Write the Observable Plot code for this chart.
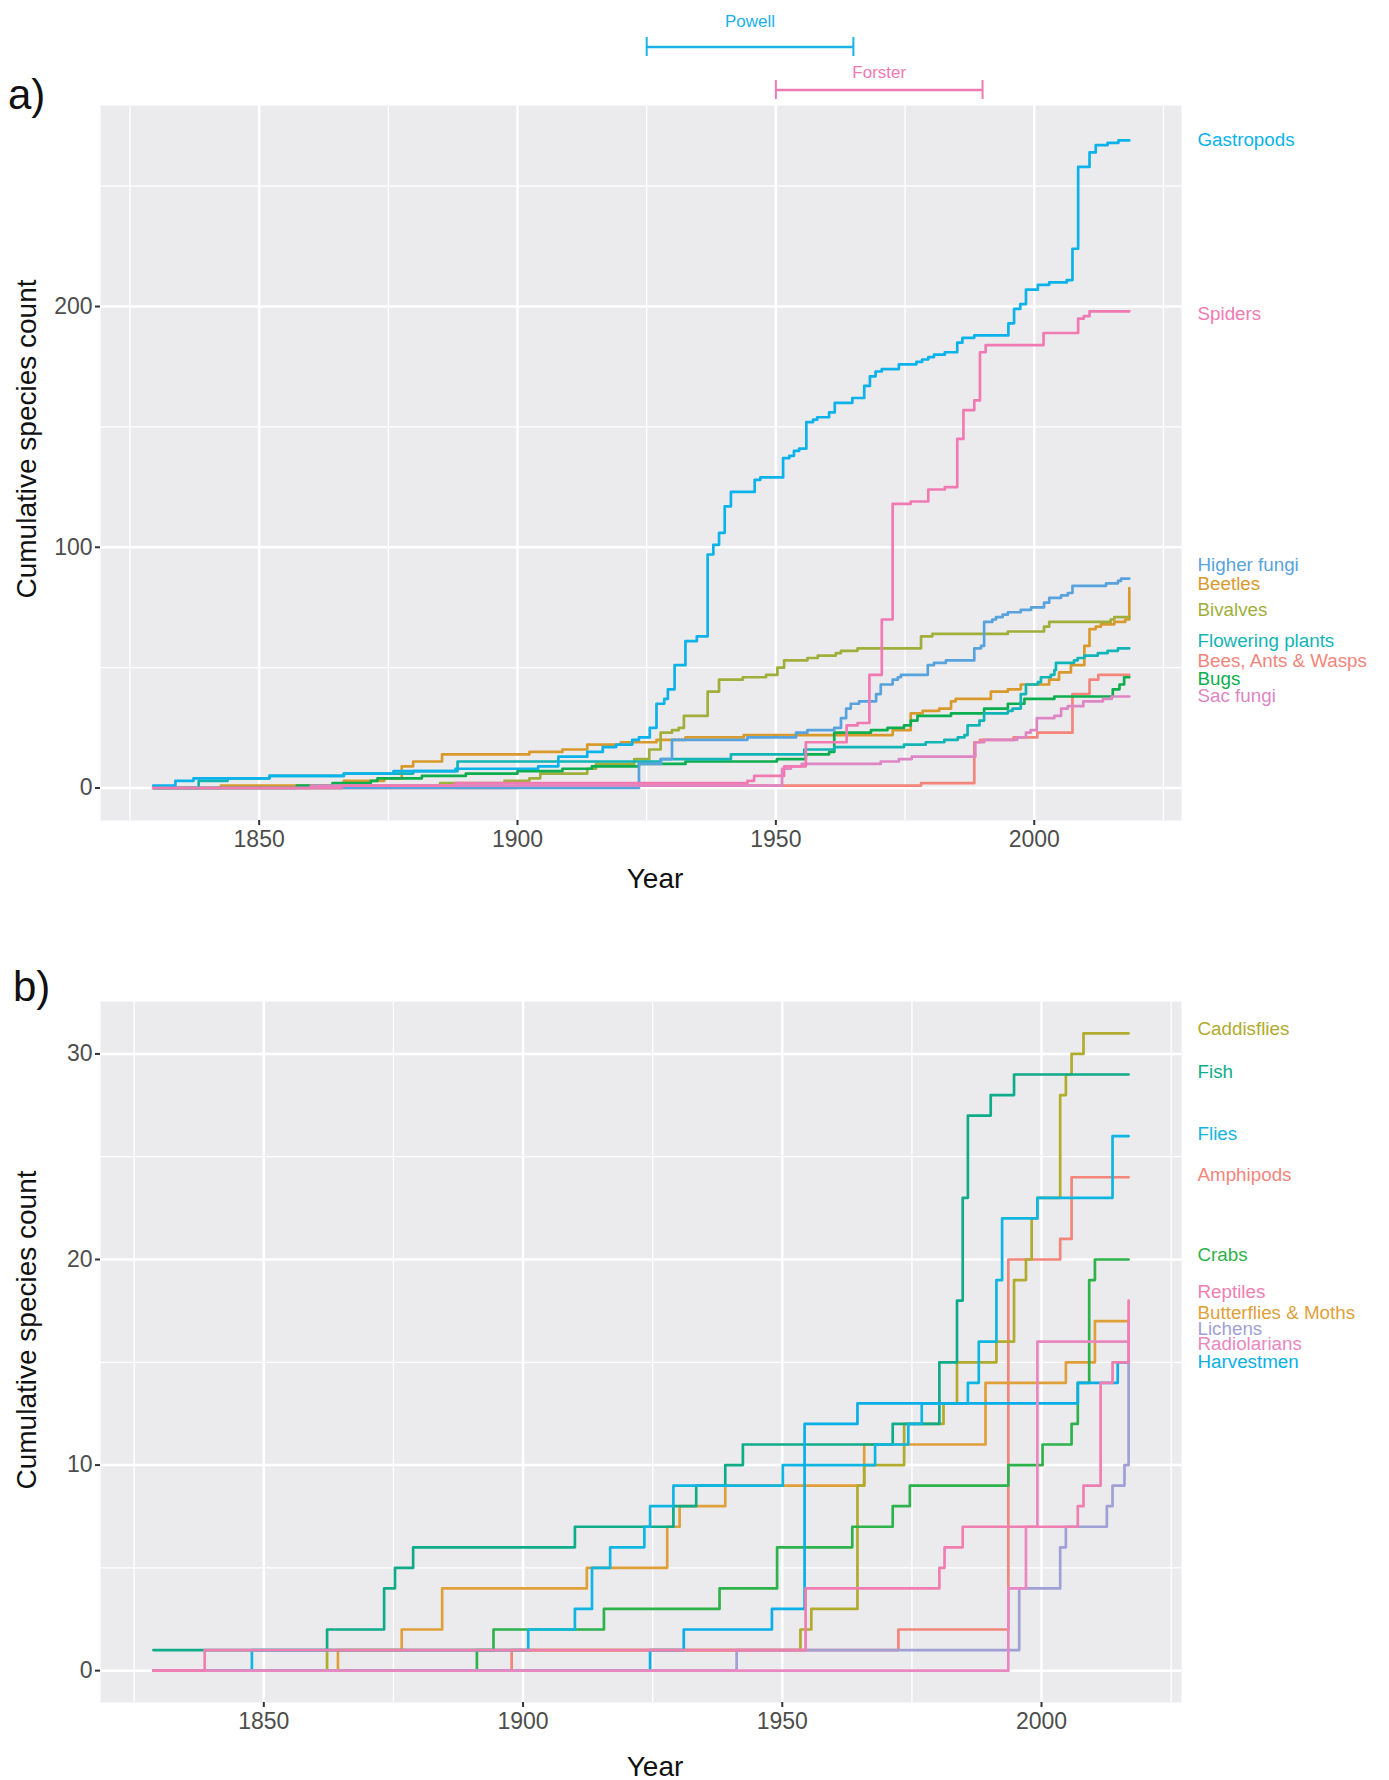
<!DOCTYPE html>
<html>
<head>
<meta charset="utf-8">
<script src="https://cdn.jsdelivr.net/npm/d3@7"></script>
<script src="https://cdn.jsdelivr.net/npm/@observablehq/plot@0.6"></script>
<style>
  body { margin: 0; background: #ffffff; }
  #root { position: relative; width: 1389px; height: 1780px; overflow: hidden; font-family: "Liberation Sans", Arial, sans-serif; }
  #root svg { display: block; }
  .panel-tag { position: absolute; font-family: "Liberation Sans", Arial, sans-serif; font-size: 42px; line-height: 1; color: #111; }
</style>
</head>
<body>
<div id="root"></div>
<script>
// ---------- Panel a data: [year, cumulative species count] ----------
const beesAntsWasps = [[1829.5,0],[1900,1],[1978.1,2],[1988.4,19],[1989.5,20],[1996,21],[2000.6,23],[2007.4,39],[2010.7,45],[2012.4,47],[2018.4,47]];
const beetles = [[1829.5,0],[1842.6,1],[1866.4,3],[1874.2,4],[1877.6,9],[1879.8,11],[1885.4,14],[1902.3,15],[1908.7,16],[1913.5,18],[1920,19],[1926.9,20],[1932.5,21],[1943.8,22],[1972.6,24],[1976.1,31],[1978.4,32],[1981.6,33],[1983.9,36],[1984.8,37],[1991.6,40],[1994.9,41],[1997.4,43],[2002.9,45],[2004.8,48],[2007.1,51],[2009.7,59],[2010.7,66],[2011.9,67],[2012.9,68],[2015.5,69],[2017.6,70],[2018.4,83]];
const bivalves = [[1829.5,0],[1866,1],[1885,2],[1897.5,3],[1902.3,4],[1904.4,6],[1913.5,8],[1915.2,10],[1922.6,12],[1925.5,16],[1927.7,23],[1929.9,24],[1931.2,25],[1932.2,30],[1936.8,40],[1939,45],[1943.6,46],[1948.1,47],[1950.3,50],[1951.6,53],[1956.1,54],[1958.1,55],[1961.6,56],[1962.6,57],[1965.8,58],[1978.1,63],[1980.3,64],[1994.9,65],[2001.9,67],[2002.9,69],[2014.8,70],[2015.5,71],[2018.4,71]];
const bugs = [[1829.5,0],[1857.3,1],[1864.2,2],[1871.6,3],[1872.9,4],[1881.5,5],[1890,6],[1900,7],[1908.7,8],[1914.4,9],[1923.5,10],[1932.5,11],[1950.2,12],[1955.8,14],[1960.3,15],[1961.3,23],[1968.4,24],[1971.6,25],[1974.8,26],[1976.1,28],[1977.4,30],[1983.9,31],[1990.3,33],[1994.9,35],[1998.1,37],[2003.9,38],[2015.2,41],[2016.5,43],[2017.4,46],[2018.4,46]];
const floweringPlants = [[1829.5,0],[1838.3,3],[1843.9,4],[1852,5],[1866.4,6],[1879.8,7],[1888.4,11],[1927.7,12],[1941.3,14],[1955.5,16],[1961.3,17],[1974.8,18],[1979,19],[1982.6,20],[1985.2,21],[1986.5,22],[1987.1,26],[1989.4,28],[1990.3,31],[1994.9,32],[1995.8,33],[1997.4,39],[1998.4,43],[2000.7,44],[2001.3,46],[2003.2,47],[2003.9,49],[2004.2,52],[2007.7,53],[2008.4,54],[2009.7,55],[2012.3,56],[2014.2,57],[2016.2,58],[2018.4,58]];
const gastropods = [[1829.5,1],[1833.8,3],[1837.3,4],[1852,5],[1866.4,6],[1876,7],[1888,8],[1904,9],[1907.9,13],[1913.5,15],[1916.5,17],[1919.1,18],[1922.2,20],[1923.5,21],[1925.6,25],[1926.9,35],[1928.4,37],[1929.1,41],[1930.4,51],[1932.5,61],[1934.7,63],[1936.8,97],[1937.9,101],[1939,106],[1940.1,117],[1941.3,123],[1945.9,128],[1947,129],[1951.4,137],[1952.6,138],[1953.5,140],[1954.5,141],[1955.9,152],[1957.2,153],[1958,154],[1960.3,156],[1961.4,160],[1964.8,162],[1967.1,167],[1968.2,171],[1969.3,173],[1970.5,174],[1973.8,176],[1977.2,177],[1978.3,178],[1979.5,179],[1980.6,180],[1982.7,181],[1985.1,185],[1986.1,187],[1988.4,188],[1995,193],[1996.1,199],[1997.3,201],[1998.4,207],[2000.7,209],[2002.9,210],[2006.3,211],[2007.4,224],[2008.5,258],[2010.7,264],[2011.9,267],[2014.2,268],[2016.3,269],[2018.4,269]];
const higherFungi = [[1829.5,0],[1923.5,10],[1927.8,12],[1929.9,20],[1944.5,21],[1953.9,23],[1956.1,24],[1961.3,25],[1962.6,29],[1963.6,33],[1964.5,35],[1966.1,36],[1969.4,39],[1970.3,43],[1972.6,45],[1973.6,46],[1974.2,47],[1979.4,51],[1980.6,52],[1982.9,53],[1988.4,58],[1989.7,59],[1990.3,69],[1991.9,70],[1992.6,71],[1993.9,72],[1994.9,73],[1997.4,74],[1999.4,75],[2001.9,77],[2002.9,79],[2005.2,80],[2006.5,81],[2007.4,84],[2013.9,85],[2016.2,86],[2016.8,87],[2018.4,87]];
const sacFungi = [[1829.5,0],[1860,1],[1951.2,8],[1952.9,9],[1955,10],[1970.3,11],[1973.8,12],[1976.3,13],[1988.6,19],[1990.3,20],[1996.7,21],[1998.4,23],[1999.3,24],[2000.5,29],[2003.9,30],[2005.2,33],[2006.5,34],[2009.5,36],[2013.3,37],[2015,38],[2018.4,38]];
const spiders = [[1829.5,0],[1866,1],[1888,2],[1944.5,3],[1945.8,5],[1951.6,9],[1955.8,19],[1963.7,26],[1965.8,27],[1968.1,47],[1970.5,70],[1972.6,118],[1976.1,119],[1979.5,124],[1982.7,125],[1985.1,145],[1986.3,157],[1988.4,161],[1989.5,181],[1990.6,184],[2001.8,189],[2008.5,195],[2009.6,196],[2010.7,198],[2018.4,198]];

// ---------- Panel b data ----------
const amphipods = [[1828.7,0],[1897.8,1],[1972.4,2],[1993.6,20],[2003.6,21],[2005.8,24],[2016.8,24]];
const butterfliesMoths = [[1828.7,0],[1864.3,1],[1876.6,2],[1884.4,4],[1912.3,5],[1927.8,7],[1930.2,8],[1939,9],[1965.8,11],[1989.2,14],[2004.7,15],[2010.3,17],[2016.8,17]];
const caddisflies = [[1828.7,0],[1862.2,1],[1953.5,2],[1955.6,3],[1964.5,9],[1965.8,10],[1973.5,12],[1981.1,13],[1983.7,15],[1991.3,16],[1994.7,19],[1997,20],[1998.1,22],[1999.2,23],[2003.6,28],[2004.7,29],[2005.8,30],[2008.1,31],[2016.8,31]];
const crabs = [[1828.7,0],[1891.1,1],[1894.3,2],[1915.6,3],[1937.9,4],[1949,6],[1963.5,7],[1971.3,8],[1974.6,9],[1993.6,10],[2000.2,11],[2005.8,12],[2007,14],[2009.2,19],[2010.3,20],[2016.8,20]];
const fish = [[1828.7,1],[1862.2,2],[1873.2,4],[1875.3,5],[1878.8,6],[1910,7],[1929,8],[1933.4,9],[1939,10],[1942.4,11],[1971.3,12],[1980.3,15],[1983.7,18],[1984.8,23],[1985.8,27],[1990.2,28],[1994.7,29],[2016.8,29]];
const flies = [[1828.7,0],[1847.7,1],[1901,2],[1910,3],[1913.3,5],[1916.8,6],[1923.4,7],[1924.5,8],[1929,9],[1950.1,10],[1967.9,11],[1974.3,12],[1976.9,13],[1985.8,14],[1987.9,16],[1991.3,19],[1992.4,22],[1999.2,23],[2013.7,26],[2016.8,26]];
const harvestmen = [[1828.7,0],[1924.5,1],[1931,2],[1948,3],[1954.3,12],[1964.5,13],[2007,14],[2014.7,15],[2016.8,15]];
const lichens = [[1828.7,0],[1941.2,1],[1995.7,4],[2003.6,6],[2004.7,7],[2012.6,8],[2013.7,9],[2016,10],[2016.8,17]];
const radiolarians = [[1828.7,0],[1993.6,4],[1997,7],[1999.2,16],[2016.8,16]];
const reptiles = [[1828.7,0],[1838.6,1],[1954.5,4],[1980.3,5],[1981.3,6],[1984.8,7],[2007,8],[2008.1,9],[2011.4,14],[2013.7,15],[2016.8,18]];

// ---------- series tables (name, data, colour, label position in data units) ----------
const namesA = ["Bees, Ants & Wasps","Beetles","Bivalves","Bugs","Flowering plants","Gastropods","Higher fungi","Sac fungi","Spiders"];
const dataA = [beesAntsWasps, beetles, bivalves, bugs, floweringPlants, gastropods, higherFungi, sacFungi, spiders];
const colorsA = ["#F3857B","#D89A2C","#A0AF3A","#0DAE4F","#12B5B5","#0CB2EA","#58A3DD","#DD86C3","#F27AB3"];
const labelValuesA = [52.7, 84.6, 73.9, 45.2, 61, 269, 92.5, 38.2, 197];

const namesB = ["Amphipods","Butterflies & Moths","Caddisflies","Crabs","Fish","Flies","Harvestmen","Lichens","Radiolarians","Reptiles"];
const dataB = [amphipods, butterfliesMoths, caddisflies, crabs, fish, flies, harvestmen, lichens, radiolarians, reptiles];
const colorsB = ["#F3857B","#DFA03A","#B1AB2E","#2EB34C","#0FAC8A","#10B6E2","#0AAFE8","#A09FD6","#E987C1","#F17EB1"];
const labelValuesB = [24.1, 17.4, 31.2, 20.24, 29.1, 26.1, 15.0, 16.6, 15.9, 18.4];

// axis ticks
const majorYears = [1850, 1900, 1950, 2000];
const minorYears = [1825, 1875, 1925, 1975, 2025];
const yMajorA = [0, 100, 200];
const yMinorA = [50, 150, 250];
const yMajorB = [0, 10, 20, 30];
const yMinorB = [5, 15, 25];

// survey periods shown above panel a
const periods = [
  {name: "Powell", start: 1925, end: 1965, color: "#1AB2E8"},
  {name: "Forster", start: 1950, end: 1990, color: "#F07AB2"}
];

const xDomainA = [1819.3, 2028.5];
const yDomainA = [-13.5, 283.5];
const xDomainB = [1818.5, 2027];
const yDomainB = [-1.55, 32.55];

const FONT = "Liberation Sans, Arial, sans-serif";
const root = document.getElementById("root");

function makePanel(cfg) {
  const rows = [];
  cfg.names.forEach((name, i) => cfg.data[i].forEach(([year, count]) => rows.push({group: name, year, count})));
  const labels = cfg.names.map((name, i) => ({group: name, value: cfg.labelValues[i]}));
  return Plot.plot({
    width: 1389,
    height: cfg.height,
    marginLeft: 100,
    marginRight: 208,
    marginTop: cfg.marginTop,
    marginBottom: cfg.marginBottom,
    style: {fontFamily: FONT, background: "transparent", overflow: "visible"},
    x: {domain: cfg.xDomain},
    y: {domain: cfg.yDomain},
    color: {domain: cfg.names, range: cfg.colors},
    marks: [
      Plot.frame({fill: "#EBEBEE", stroke: "none"}),
      Plot.gridX(minorYears, {stroke: "#ffffff", strokeOpacity: 1, strokeWidth: 1.3}),
      Plot.gridY(cfg.yMinor, {stroke: "#ffffff", strokeOpacity: 1, strokeWidth: 1.3}),
      Plot.gridX(majorYears, {stroke: "#ffffff", strokeOpacity: 1, strokeWidth: 2.5}),
      Plot.gridY(cfg.yMajor, {stroke: "#ffffff", strokeOpacity: 1, strokeWidth: 2.5}),
      Plot.axisX(majorYears, {tickSize: 5, tickPadding: 5, fontSize: 23, fill: "#4D4D4D", stroke: "#333333", strokeWidth: 2, label: null, tickFormat: "d"}),
      Plot.axisY(cfg.yMajor, {tickSize: 5, tickPadding: 3, fontSize: 23, fill: "#4D4D4D", stroke: "#333333", strokeWidth: 2, label: null, tickFormat: "d"}),
      Plot.line(rows, {x: "year", y: "count", z: "group", stroke: "group", curve: "step-after", strokeWidth: 2.7}),
      Plot.text(labels, {frameAnchor: "right", y: "value", text: "group", fill: "group", textAnchor: "start", dx: 16, fontSize: 18.8}),
      Plot.text(["Year"], {text: d => d, frameAnchor: "bottom", lineAnchor: "bottom", textAnchor: "middle", dx: 14, dy: cfg.xTitleDy, fontSize: 28, fill: "#111111"}),
      Plot.text(["Cumulative species count"], {text: d => d, frameAnchor: "left", textAnchor: "middle", rotate: -90, dx: -73, dy: cfg.yTitleDy, fontSize: 28, fill: "#111111"})
    ]
  });
}

// annotation strip (survey periods)
const strip = Plot.plot({
  width: 1389,
  height: 100,
  marginLeft: 100,
  marginRight: 208,
  marginTop: 0,
  marginBottom: 0,
  style: {fontFamily: FONT, background: "transparent", overflow: "visible"},
  x: {domain: xDomainA, axis: null},
  y: {type: "band", domain: periods.map(d => d.name), range: [36.7, 99.6], paddingInner: 0.557, paddingOuter: 0, axis: null},
  marks: [
    Plot.ruleY(periods, {y: "name", x1: "start", x2: "end", stroke: "color", strokeWidth: 2.4}),
    Plot.tickX(periods, {x: "start", y: "name", stroke: "color", strokeWidth: 2}),
    Plot.tickX(periods, {x: "end", y: "name", stroke: "color", strokeWidth: 2}),
    Plot.text(periods.filter(d => d.name === "Powell"), {x: d => (d.start + d.end) / 2, y: "name", text: "name", fill: "color", dy: -25.5, fontSize: 17}),
    Plot.text(periods.filter(d => d.name === "Forster"), {x: d => (d.start + d.end) / 2, y: "name", text: "name", fill: "color", dy: -17.5, fontSize: 17})
  ]
});
root.appendChild(strip);

const panelA = makePanel({
  names: namesA, data: dataA, colors: colorsA, labelValues: labelValuesA,
  xDomain: xDomainA, yDomain: yDomainA, yMajor: yMajorA, yMinor: yMinorA,
  height: 800, marginTop: 5, marginBottom: 80, xTitleDy: 67, yTitleDy: -24
});
root.appendChild(panelA);

const panelB = makePanel({
  names: namesB, data: dataB, colors: colorsB, labelValues: labelValuesB,
  xDomain: xDomainB, yDomain: yDomainB, yMajor: yMajorB, yMinor: yMinorB,
  height: 880, marginTop: 101, marginBottom: 78, xTitleDy: 73, yTitleDy: -22
});
root.appendChild(panelB);

// panel tags
for (const [txt, left, top] of [["a)", 8, 74], ["b)", 13, 966]]) {
  const el = document.createElement("div");
  el.className = "panel-tag";
  el.textContent = txt;
  el.style.left = left + "px";
  el.style.top = top + "px";
  root.appendChild(el);
}
</script>
</body>
</html>
